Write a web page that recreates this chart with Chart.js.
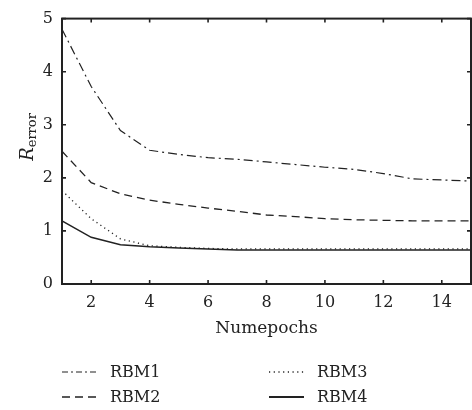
<!DOCTYPE html>
<html>
<head>
<meta charset="utf-8">
<script src="https://cdn.jsdelivr.net/npm/chart.js@4/dist/chart.umd.min.js"></script>
<style>
  html, body { margin: 0; padding: 0; background: #fff; }
  #wrap { width: 472px; height: 410px; }
</style>
</head>
<body>
<div id="wrap"><canvas id="chart" width="472" height="410"></canvas></div>
<script>
// data
const epochs = [1, 2, 3, 4, 5, 6, 7, 8, 9, 10, 11, 12, 13, 14, 15];
const rbm1 = [4.8, 3.72, 2.89, 2.52, 2.44, 2.38, 2.35, 2.30, 2.25, 2.20, 2.16, 2.08, 1.98, 1.96, 1.94];
const rbm2 = [2.5, 1.91, 1.70, 1.58, 1.50, 1.43, 1.37, 1.30, 1.27, 1.23, 1.21, 1.20, 1.19, 1.19, 1.19];
const rbm3 = [1.76, 1.23, 0.85, 0.72, 0.69, 0.67, 0.66, 0.66, 0.66, 0.66, 0.66, 0.66, 0.66, 0.66, 0.66];
const rbm4 = [1.19, 0.88, 0.74, 0.70, 0.68, 0.66, 0.64, 0.64, 0.64, 0.64, 0.64, 0.64, 0.64, 0.64, 0.64];
const seriesNames = ["RBM1", "RBM2", "RBM3", "RBM4"];
const xTicks = [2, 4, 6, 8, 10, 12, 14];
const yTicks = [0, 1, 2, 3, 4, 5];

const FONT = "'DejaVu Serif', 'Liberation Serif', serif";
const INK = "#222";

const styles = [
  { dash: [9, 4, 2, 4], width: 1.2 },
  { dash: [8, 5], width: 1.3 },
  { dash: [1.2, 3.5], width: 1.3 },
  { dash: [], width: 1.5 }
];

const toPts = (arr) => arr.map((v, i) => ({ x: epochs[i], y: v }));
const allSeries = [rbm1, rbm2, rbm3, rbm4];

const datasets = allSeries.map((s, i) => ({
  label: seriesNames[i],
  data: toPts(s),
  borderColor: INK,
  borderWidth: styles[i].width,
  borderDash: styles[i].dash,
  pointRadius: 0,
  fill: false,
  tension: 0
}));

// frame, inward ticks, y title and legend
const decor = {
  id: "decor",
  afterDraw(chart) {
    const ctx = chart.ctx;
    const a = chart.chartArea;
    const xs = chart.scales.x, ys = chart.scales.y;
    ctx.save();
    ctx.strokeStyle = INK;
    ctx.lineWidth = 2;
    ctx.setLineDash([]);
    ctx.strokeRect(a.left, a.top, a.right - a.left, a.bottom - a.top);
    ctx.lineWidth = 1.6;
    ctx.beginPath();
    xTicks.forEach(v => {
      const px = xs.getPixelForValue(v);
      ctx.moveTo(px, a.bottom); ctx.lineTo(px, a.bottom - 4);
      ctx.moveTo(px, a.top); ctx.lineTo(px, a.top + 4);
    });
    yTicks.forEach(v => {
      const py = ys.getPixelForValue(v);
      ctx.moveTo(a.left, py); ctx.lineTo(a.left + 4, py);
      ctx.moveTo(a.right, py); ctx.lineTo(a.right - 4, py);
    });
    ctx.stroke();

    // y axis title: R with subscript "error"
    ctx.fillStyle = INK;
    ctx.translate(33, 137);
    ctx.rotate(-Math.PI / 2);
    ctx.textBaseline = "alphabetic";
    ctx.font = "italic 18px " + FONT;
    const rw = ctx.measureText("R").width;
    ctx.font = "13px " + FONT;
    const sw = ctx.measureText("error").width;
    const x0 = -(rw + sw) / 2;
    ctx.font = "italic 18px " + FONT;
    ctx.textAlign = "left";
    ctx.fillText("R", x0, 0);
    ctx.font = "13px " + FONT;
    ctx.fillText("error", x0 + rw, 3);
    ctx.restore();

    // x axis title
    ctx.save();
    ctx.fillStyle = INK;
    ctx.font = "17px " + FONT;
    ctx.textAlign = "center";
    ctx.textBaseline = "middle";
    ctx.fillText("Numepochs", (a.left + a.right) / 2, 329);

    // legend in two columns
    const cols = [62, 269];
    const rows = [372, 397];
    chart.data.datasets.forEach((ds, i) => {
      const lx = cols[Math.floor(i / 2)];
      const ly = rows[i % 2];
      ctx.strokeStyle = INK;
      ctx.lineWidth = i === 3 ? 2 : ds.borderWidth;
      ctx.setLineDash(i === 0 ? [6, 3, 2, 3] : ds.borderDash);
      ctx.beginPath();
      ctx.moveTo(lx, ly); ctx.lineTo(lx + 35, ly);
      ctx.stroke();
      ctx.setLineDash([]);
      ctx.font = "16px " + FONT;
      ctx.textAlign = "left";
      ctx.fillText(ds.label, lx + 48, ly + 1);
    });
    ctx.restore();
  }
};

new Chart(document.getElementById("chart"), {
  type: "line",
  data: { datasets: datasets },
  options: {
    responsive: false,
    animation: false,
    layout: { padding: { top: 12, right: 1, left: 0, bottom: 0 } },
    plugins: { legend: { display: false }, tooltip: { enabled: false } },
    scales: {
      x: {
        type: "linear",
        min: 1,
        max: 15,
        grid: { display: false, drawTicks: false },
        border: { display: false },
        afterBuildTicks: (axis) => { axis.ticks = xTicks.map(v => ({ value: v })); },
        afterFit: (axis) => { axis.height = 126; },
        ticks: { color: INK, padding: 9, font: { family: FONT, size: 16 } }
      },
      y: {
        min: 0,
        max: 5,
        grid: { display: false, drawTicks: false },
        border: { display: false },
        afterBuildTicks: (axis) => { axis.ticks = yTicks.map(v => ({ value: v })); },
        afterFit: (axis) => { axis.width = 62; },
        ticks: { color: INK, padding: 9, font: { family: FONT, size: 16 } }
      }
    }
  },
  plugins: [decor]
});
</script>
</body>
</html>
